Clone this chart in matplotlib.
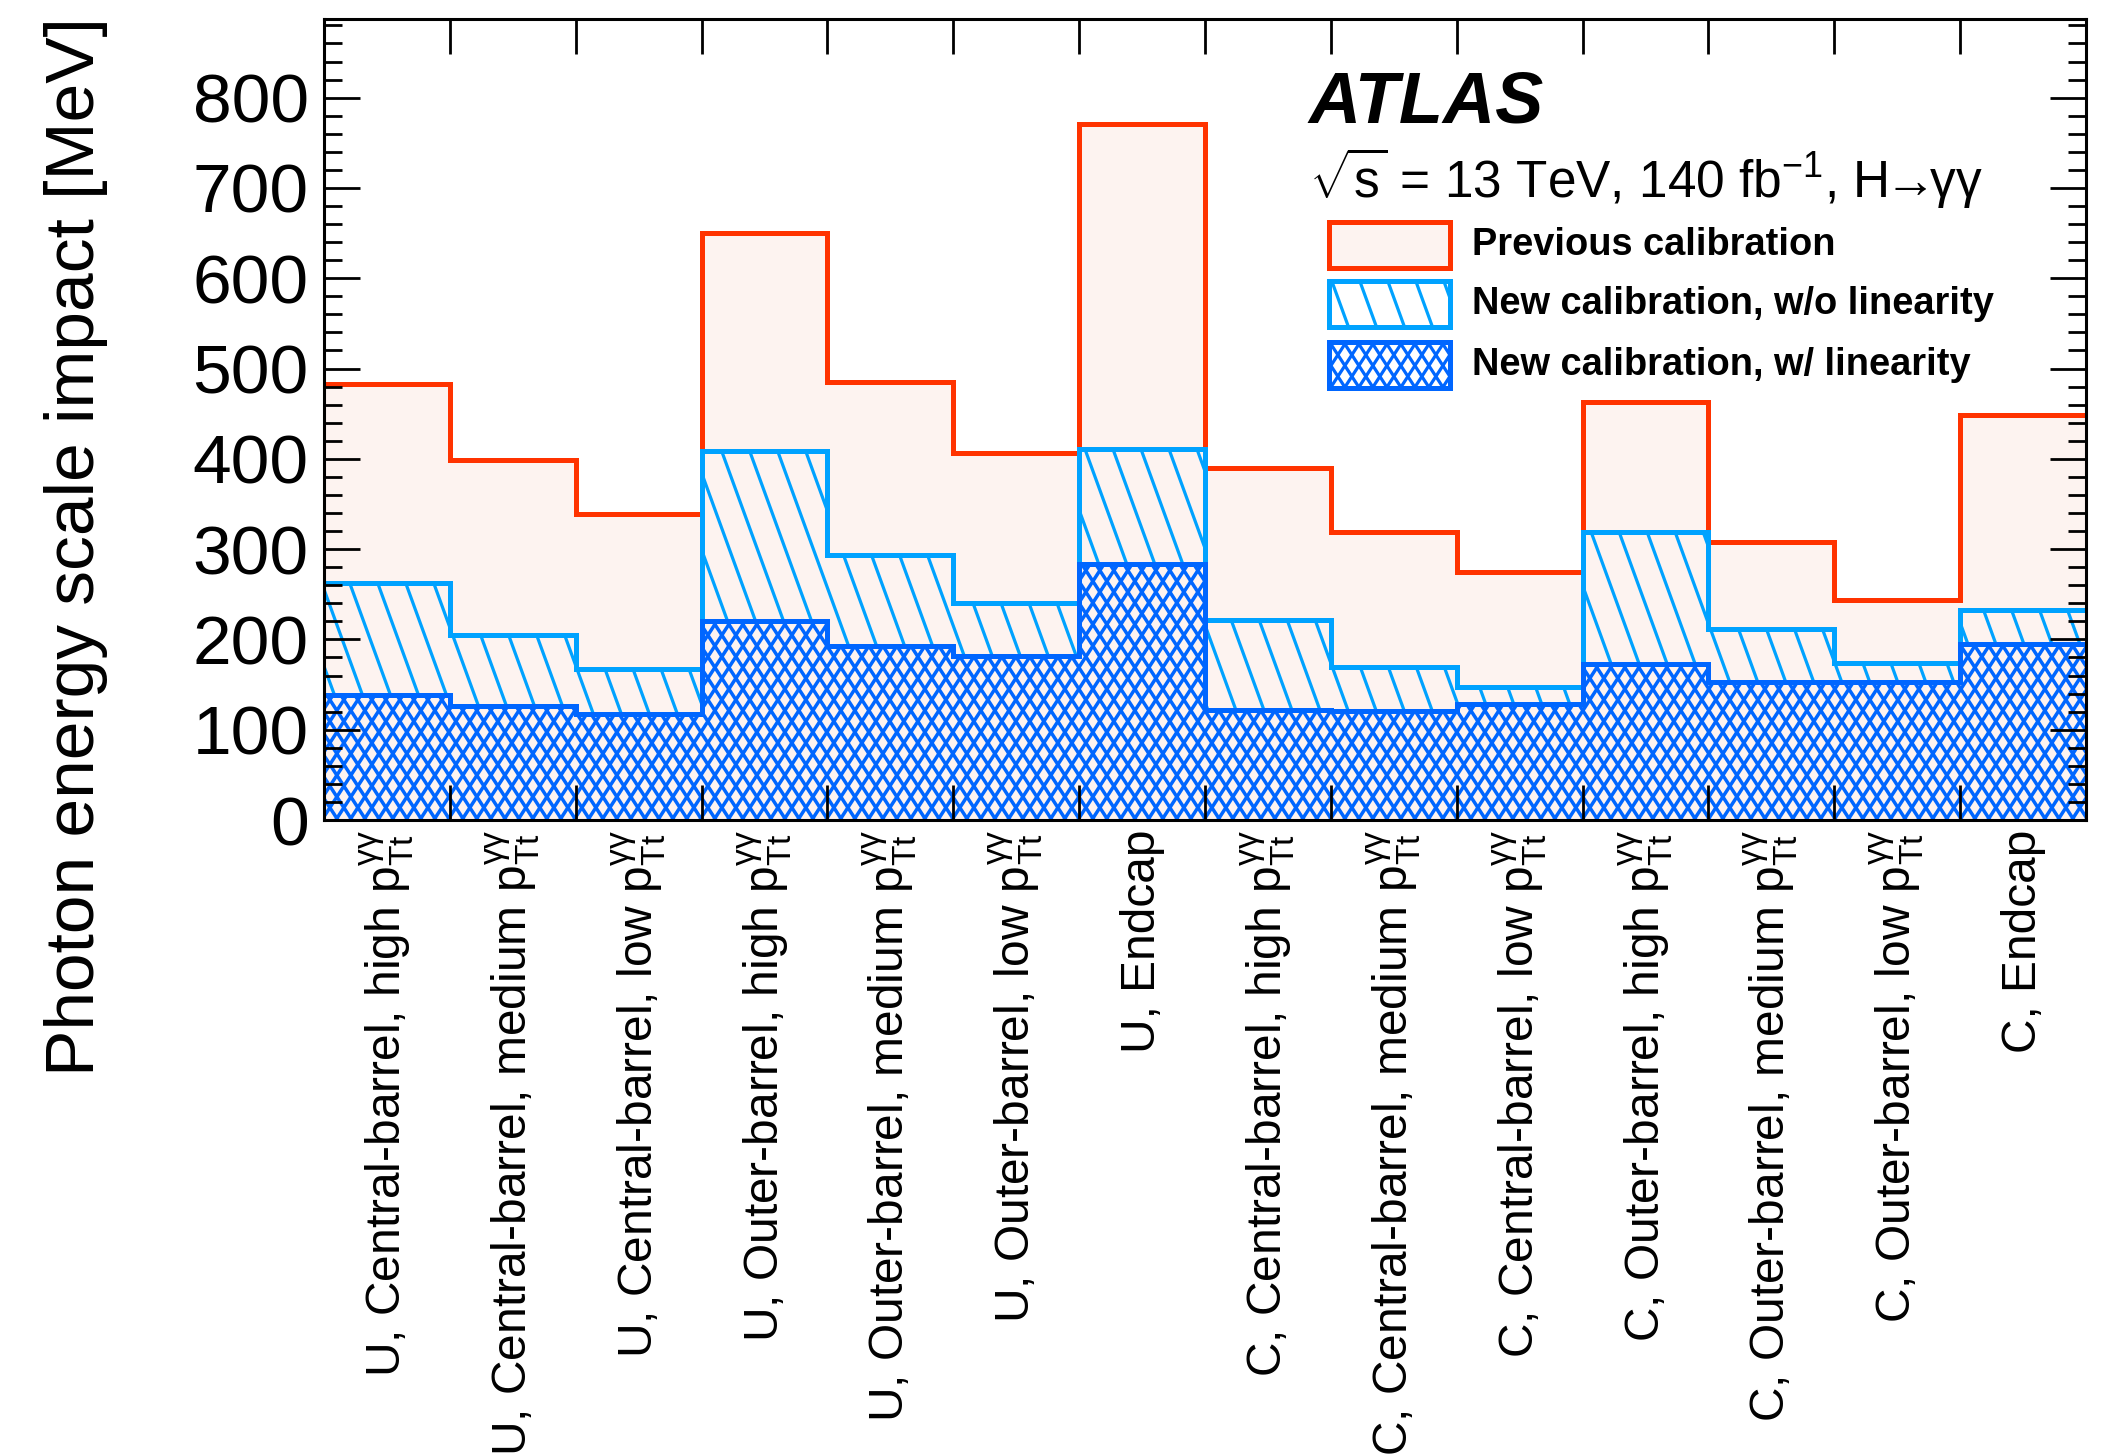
import numpy as np
import matplotlib
matplotlib.use("Agg")
import matplotlib.pyplot as plt
from matplotlib.collections import LineCollection
from matplotlib.patches import Rectangle

plt.rcParams["font.family"] = ["Liberation Sans", "DejaVu Sans"]
plt.rcParams["mathtext.fontset"] = "custom"
plt.rcParams["mathtext.rm"] = "Liberation Sans"
plt.rcParams["mathtext.it"] = "Liberation Sans:italic"
plt.rcParams["mathtext.bf"] = "Liberation Sans:bold"

# ----------------- data -----------------
PT = r"$\mathrm{p}_{\mathrm{Tt}}^{\mathrm{\gamma\gamma}}$"
categories = [
    "U, Central-barrel, high " + PT,
    "U, Central-barrel, medium " + PT,
    "U, Central-barrel, low " + PT,
    "U, Outer-barrel, high " + PT,
    "U, Outer-barrel, medium " + PT,
    "U, Outer-barrel, low " + PT,
    "U, Endcap",
    "C, Central-barrel, high " + PT,
    "C, Central-barrel, medium " + PT,
    "C, Central-barrel, low " + PT,
    "C, Outer-barrel, high " + PT,
    "C, Outer-barrel, medium " + PT,
    "C, Outer-barrel, low " + PT,
    "C, Endcap",
]
# photon energy scale impact [MeV]
previous_calib = [483, 399, 339, 650, 485, 406, 771, 390, 319, 275, 463, 308, 244, 448]
new_no_lin = [263, 205, 167, 409, 294, 240, 411, 221, 170, 147, 319, 212, 174, 233]
new_with_lin = [139, 126, 117, 220, 193, 182, 284, 122, 121, 128, 173, 153, 153, 195]

RED = "#ff3300"
LIGHT = "#00a2ff"
DARK = "#0066ff"
PINK = "#fdf3f0"


def add_hatch(ax, clip_patch, spacing, angle, color, lw, cross=False, zorder=1.1):
    """ROOT-like steep hatch: lines in axes coords, clipped to a patch."""
    fig = ax.figure
    pos = ax.get_position()
    w = pos.width * fig.bbox.width
    h = pos.height * fig.bbox.height
    run = h / np.tan(np.radians(angle))
    starts = np.arange(-run - spacing, w + run + spacing, spacing)
    segs = [[(x0 / w, 1.0), ((x0 + run) / w, 0.0)] for x0 in starts]
    if cross:
        segs += [[(x0 / w, 0.0), ((x0 + run) / w, 1.0)] for x0 in starts]
    lc = LineCollection(segs, colors=color, linewidths=lw,
                        transform=ax.transAxes, zorder=zorder)
    ax.add_collection(lc, autolim=False)
    lc.set_clip_path(clip_patch)
    return lc


fig = plt.figure(figsize=(21.16, 14.55), dpi=100)
ax = fig.add_axes([0.1531, 0.4364, 0.8327, 0.5505])

edges = np.arange(len(categories) + 1)
centers = edges[:-1] + 0.5

# previous calibration: filled pink
ax.stairs(previous_calib, edges, baseline=0, fill=True, facecolor=PINK,
          edgecolor="none", zorder=1.0)

# new calibration without linearity: single steep hatch
light_patch = ax.stairs(new_no_lin, edges, baseline=0, fill=True,
                        facecolor="none", edgecolor="none", zorder=1.05)
add_hatch(ax, light_patch, 28, 70, LIGHT, 2.3, zorder=1.1)

# new calibration with linearity: pink base + cross hatch
dark_patch = ax.stairs(new_with_lin, edges, baseline=0, fill=True,
                       facecolor=PINK, edgecolor="none", zorder=1.2)
add_hatch(ax, dark_patch, 14, 57, DARK, 2.5, cross=True, zorder=1.3)

# outlines
ax.stairs(previous_calib, edges, baseline=None, color=RED, lw=3.6, zorder=1.4)
ax.stairs(new_no_lin, edges, baseline=None, color=LIGHT, lw=3.6, zorder=1.5)
ax.stairs(new_with_lin, edges, baseline=None, color=DARK, lw=3.6, zorder=1.6)

ax.set_xlim(0, len(categories))
ax.set_ylim(0, 887)

# axes cosmetics
for sp in ax.spines.values():
    sp.set_linewidth(2.2)
    sp.set_zorder(3)
ax.set_yticks(np.arange(0, 801, 100))
ax.set_yticks(np.arange(0, 881, 20), minor=True)
ax.tick_params(axis="y", which="major", direction="in", length=26, width=2,
               left=True, right=True, labelsize=50, pad=11)
ax.tick_params(axis="y", which="minor", direction="in", length=13, width=2,
               left=True, right=True)
ax.set_xticks(edges)
ax.set_xticks(centers, labels=categories, minor=True)
ax.tick_params(axis="x", which="major", direction="in", length=25, width=2,
               top=True, bottom=True, labelbottom=False)
ax.tick_params(axis="x", which="minor", length=0, labelsize=34.5, pad=7,
               labelrotation=90)
for lab in ax.get_xticklabels(minor=True):
    lab.set_va("top")
    lab.set_ha("center")

fig.text(0.036, 0.988, "Photon energy scale impact [MeV]", rotation=90,
         ha="center", va="top", fontsize=50)

# labels
ax.text(0.559, 0.871, "ATLAS", transform=ax.transAxes, fontsize=52,
        fontweight="bold", fontstyle="italic", va="baseline")
ax.text(0.559, 0.7765,
        r"$\sqrt{\mathrm{s}}$ = 13 TeV, 140 fb$^{\mathrm{-1}}$, H$\!\!\rightarrow\!\!$γγ",
        transform=ax.transAxes, fontsize=37, va="baseline")

# legend
leg_rows = [
    ("Previous calibration", RED, PINK, None),
    ("New calibration, w/o linearity", LIGHT, "white", (28, 70, False)),
    ("New calibration, w/ linearity", DARK, "white", (14, 57, True)),
]
leg_bottoms = [0.689, 0.6155, 0.5393]
box_x, box_w, box_h = 0.5704, 0.0687, 0.0574
for (label, ec, fc, hatch), yb in zip(leg_rows, leg_bottoms):
    rect = Rectangle((box_x, yb), box_w, box_h, transform=ax.transAxes,
                     facecolor=fc, edgecolor="none", zorder=4)
    ax.add_patch(rect)
    if hatch is not None:
        sp_, ang, cr = hatch
        add_hatch(ax, rect, sp_, ang, ec, 2.3, cross=cr, zorder=4.1)
    frame = Rectangle((box_x, yb), box_w, box_h, transform=ax.transAxes,
                      facecolor="none", edgecolor=ec, lw=3.6, zorder=4.2)
    ax.add_patch(frame)
    ax.text(0.6515, yb + box_h / 2, label, transform=ax.transAxes,
            fontsize=27.4, fontweight="bold", va="center", ha="left", zorder=5)

fig.savefig("out.png", dpi=100)
